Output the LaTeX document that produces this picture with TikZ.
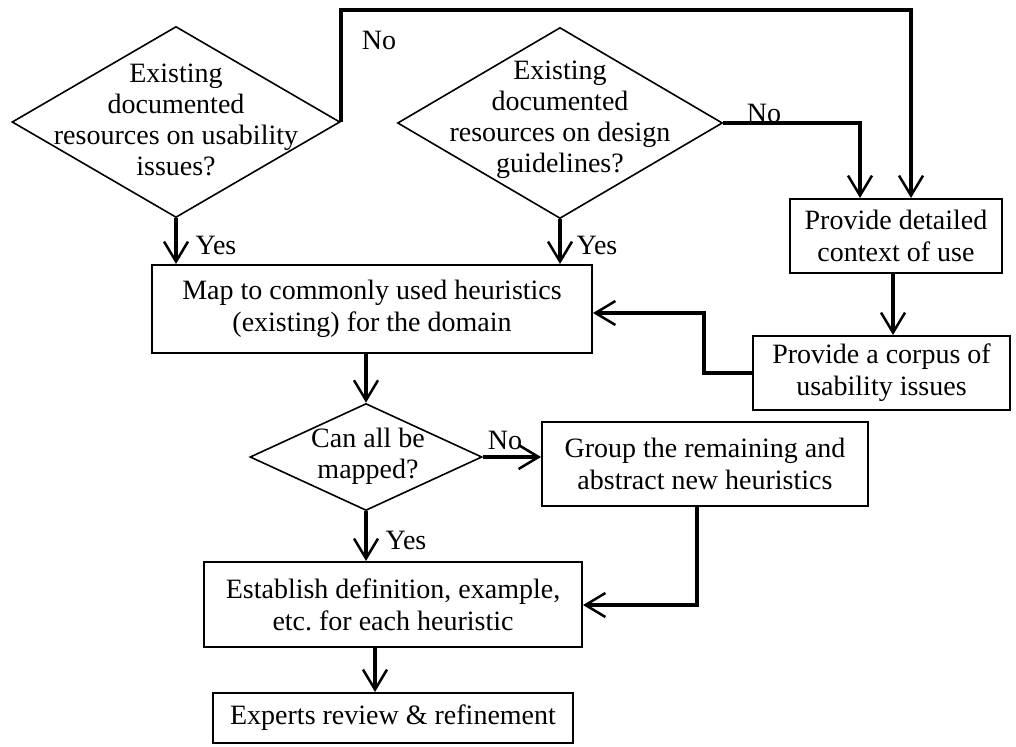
\documentclass[tikz,border=0pt]{standalone}
\usepackage{fontspec}
\setmainfont{Liberation Serif}
\usetikzlibrary{shapes.geometric,arrows.meta}
\frenchspacing
\begin{document}
\begin{tikzpicture}[x=1pt,y=-1pt,
  txt/.style={font=\fontsize{28}{32}\selectfont},
  stepbox/.style={draw,line width=2pt,inner sep=0pt,align=center,txt},
  decision/.style={draw,diamond,line width=1.6pt,inner sep=0pt},
  qtext/.style={align=center,inner sep=0pt,font=\fontsize{28}{31}\selectfont},
  lbl/.style={inner sep=0pt,txt},
  arr/.style={line width=3.5pt,-{Straight Barb[length=20pt,width=24pt,line width=2.5pt]}}]
\useasboundingbox (0,0) rectangle (1016,746);

% decisions
\node[decision,minimum width=328pt,minimum height=191pt] (d1) at (176,122) {};
\node[qtext] (q1) at (176,120) {Existing\\documented\\resources on usability\\issues?};
\node[decision,minimum width=325pt,minimum height=191pt] (d2) at (560,123) {};
\node[qtext] (q2) at (560,120) {Existing\\documented\\resources on design\\guidelines?};
\node[decision,minimum width=232pt,minimum height=107pt] (d3) at (366,457) {};
\node[qtext] (q3) at (368,456) {Can all be\\mapped?};

% process steps
\node[stepbox,minimum width=212pt,minimum height=74pt] (ctx) at (896,236) {Provide detailed\\context of use};
\node[stepbox,minimum width=257pt,minimum height=74pt] (corpus) at (881.5,373) {Provide a corpus of\\usability issues};
\node[stepbox,minimum width=440pt,minimum height=88pt] (map) at (372,309) {Map to commonly used heuristics\\(existing) for the domain};
\node[stepbox,minimum width=326pt,minimum height=84pt] (grp) at (705,464) {Group the remaining and\\abstract new heuristics};
\node[stepbox,minimum width=378pt,minimum height=85pt] (est) at (393,604.5) {Establish definition, example,\\etc. for each heuristic};
\node[stepbox,minimum width=360pt,minimum height=50pt] (exp) at (393,718) {Experts review \& refinement};

% routing points
\coordinate (topr) at (911,10);
\coordinate (nor) at (860,123);
\coordinate (back) at (704,313);
\coordinate (down) at (697,605);
\coordinate (mid5) at (375,0);

% connectors
\draw[arr] (d1.east) |- (topr) -- (topr |- ctx.north);
\draw[arr] (d2.east) -- (nor) -- (nor |- ctx.north);
\draw[arr] (d1.south) -- (d1.south |- map.north);
\draw[arr] (d2.south) -- (d2.south |- map.north);
\draw[arr] (ctx.south -| 893,0) -- (corpus.north -| 893,0);
\draw[arr] (corpus.west) -| (back) -- (map.east |- back);
\draw[arr] (d3.north |- map.south) -- (d3.north);
\draw[arr] (d3.east) -- (grp.west |- d3.east);
\draw[arr] (d3.south) -- (d3.south |- est.north);
\draw[arr] (grp.south -| down) -- (down) -- (est.east |- down);
\draw[arr] (est.south -| mid5) -- (exp.north -| mid5);

% branch labels
\node[lbl] (n1) at (379,40) {No};
\node[lbl] (n2) at (764,113) {No};
\node[lbl] (n3) at (505,440) {No};
\node[lbl] (y1) at (216,245) {Yes};
\node[lbl] (y2) at (597,245) {Yes};
\node[lbl] (y3) at (406,540) {Yes};
\end{tikzpicture}
\end{document}
